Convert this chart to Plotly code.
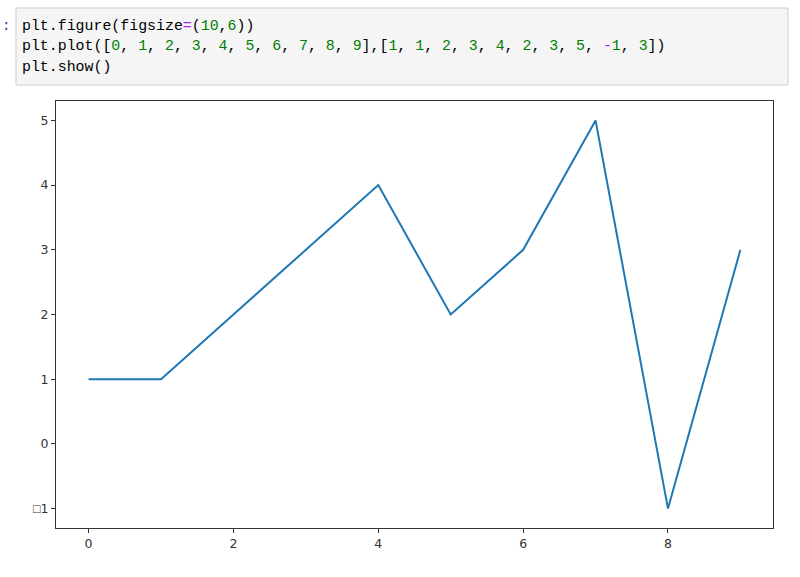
import plotly.graph_objects as go

x_vals = [0, 1, 2, 3, 4, 5, 6, 7, 8, 9]
y_vals = [1, 1, 2, 3, 4, 2, 3, 5, -1, 3]
x_ticks = [0, 2, 4, 6, 8]
y_ticks = [-1, 0, 1, 2, 3, 4, 5]
y_tick_text = ['<span style="font-family:Liberation Sans">\u25a1</span>1', "0", "1", "2", "3", "4", "5"]

W, H = 800, 577
L, R, T, B = 56, 773, 101, 528
pw, ph = R - L, B - T


def px(x):
    return (x - L) / pw


def py(y):
    return (B - y) / ph


G = "#008000"
P = "#aa22ff"


def num(s):
    return f'<span style="color:{G}">{s}</span>'


line1 = "plt.figure(figsize" + f'<span style="color:{P}">=</span>' + "(" + num("10") + "," + num("6") + "))"
xs = ", ".join(num(str(v)) for v in x_vals)
ys = ", ".join((f'<span style="color:{P}">-</span>' + num(str(-v))) if v < 0 else num(str(v)) for v in y_vals)
line2 = "plt.plot([" + xs + "],[" + ys + "])"
line3 = "plt.show()"

fig = go.Figure()
fig.add_trace(go.Scatter(x=x_vals, y=y_vals, mode="lines",
                         line=dict(color="#1f77b4", width=2), showlegend=False))

code_font = dict(family="Liberation Mono", size=14.9, color="#000000")
annotations = []
for i, t in enumerate([line1, line2, line3]):
    annotations.append(dict(xref="paper", yref="paper", x=px(20), y=py(26 + i * 20.5),
                            xanchor="left", yanchor="middle", text=t, showarrow=False,
                            font=code_font))
annotations.append(dict(xref="paper", yref="paper", x=px(0), y=py(26), xanchor="left",
                        yanchor="middle", text=":", showarrow=False,
                        font=dict(family="Liberation Mono", size=14, color="#303f9f")))

tick_font = dict(family="DejaVu Sans", size=12.5, color="#333333")

fig.update_layout(
    width=W, height=H,
    margin=dict(l=L, r=W - R, t=T, b=H - B, pad=0),
    paper_bgcolor="white", plot_bgcolor="white",
    shapes=[dict(type="rect", xref="paper", yref="paper", x0=px(16), x1=px(788),
                 y0=py(8), y1=py(85), fillcolor="#f5f5f5",
                 line=dict(color="#cfcfcf", width=1), layer="below")],
    annotations=annotations,
    xaxis=dict(range=[-0.45, 9.45], tickvals=x_ticks, showgrid=False, zeroline=False,
               showline=True, mirror=True, linecolor="#333333", linewidth=1,
               ticks="outside", ticklen=4, tickcolor="#333333", tickfont=tick_font),
    yaxis=dict(range=[-1.3, 5.3], tickvals=y_ticks, ticktext=y_tick_text, showgrid=False,
               zeroline=False, showline=True, mirror=True, linecolor="#333333", linewidth=1,
               ticks="outside", ticklen=4, tickcolor="#333333", tickfont=tick_font),
)

fig.write_html("out.html", config={"displayModeBar": False},
               post_script="document.body.style.margin='0px';document.body.style.overflow='hidden';")
